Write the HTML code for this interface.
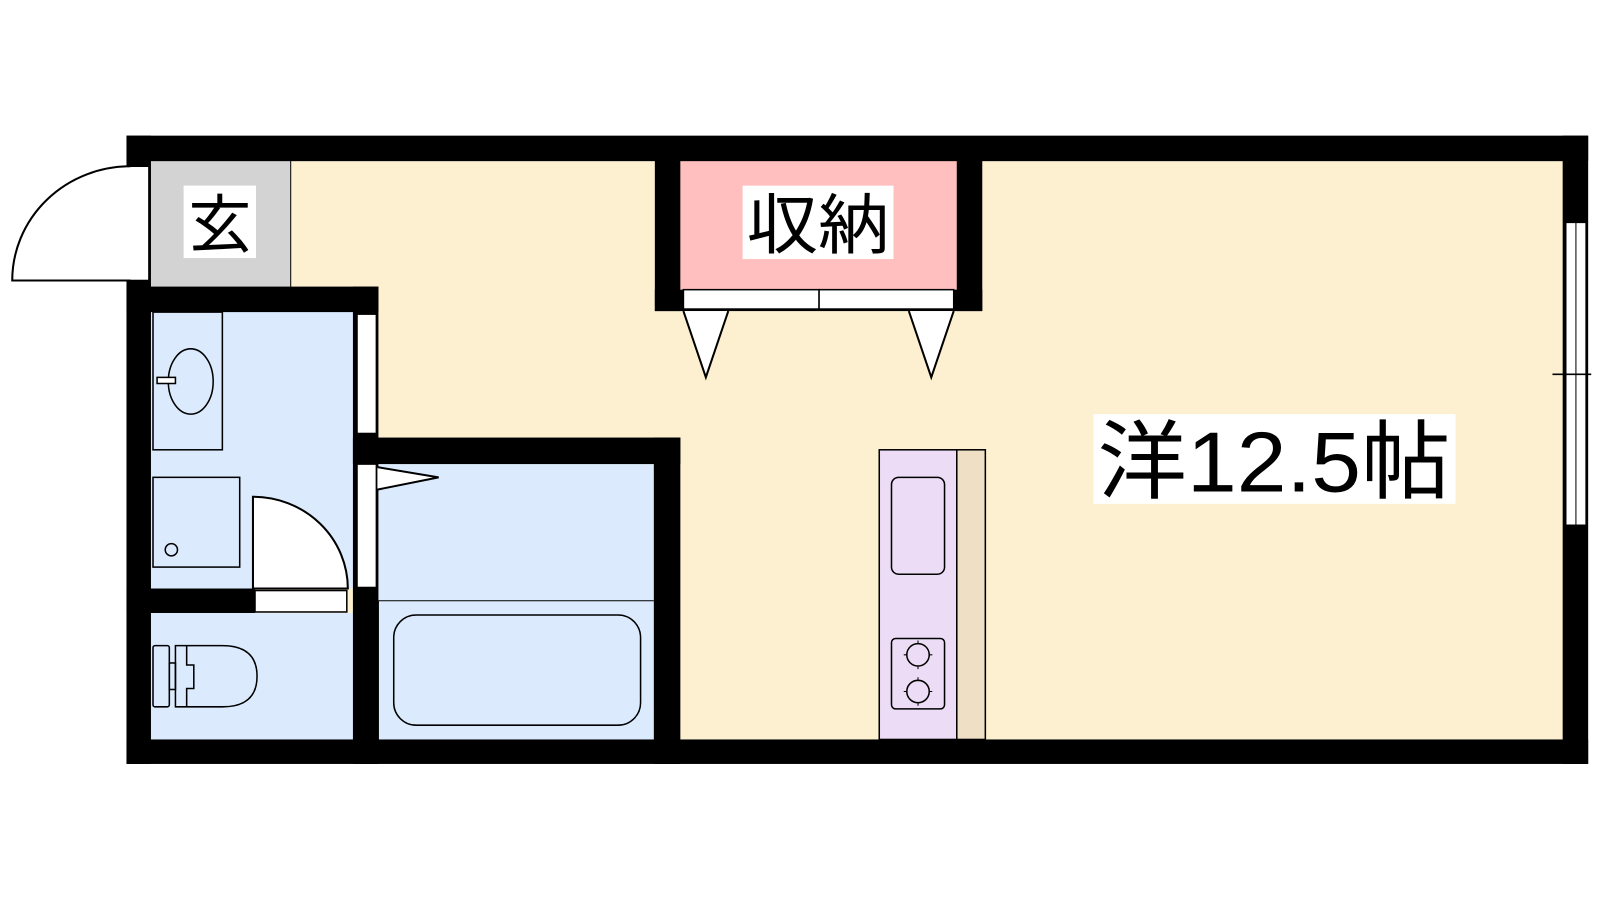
<!DOCTYPE html>
<html><head><meta charset="utf-8"><style>
html,body{margin:0;padding:0;background:#fff;width:1600px;height:900px;overflow:hidden}
svg{display:block}
text{font-family:"Liberation Sans","Noto Sans CJK JP",sans-serif}
</style></head><body>
<svg width="1600" height="900" viewBox="0 0 1568.6 882.4" preserveAspectRatio="none" xmlns="http://www.w3.org/2000/svg">
<rect width="1568.6" height="882.4" fill="#fff"/>
<!-- floors -->
<rect x="148" y="157" width="1385" height="569" fill="#fdf0d0"/>
<rect x="148" y="157" width="137" height="125" fill="#d3d3d3"/>
<line x1="285" y1="157" x2="285" y2="282" stroke="#000" stroke-width="1"/>
<rect x="148" y="305" width="199" height="272" fill="#dbebfd"/>
<rect x="148" y="601" width="199" height="125" fill="#dbebfd"/>
<rect x="371" y="455" width="270" height="271" fill="#dbebfd"/>
<rect x="667" y="157" width="272" height="127" fill="#ffbfbf"/>
<!-- walls -->
<g fill="#000">
<rect x="124" y="133" width="1433" height="25"/>
<rect x="124" y="725" width="1433" height="24"/>
<rect x="124" y="133" width="24" height="616"/>
<rect x="1532" y="133" width="25" height="616"/>
<rect x="124" y="281" width="247" height="25"/>
<rect x="346" y="281" width="25" height="468"/>
<rect x="346" y="429" width="321" height="26"/>
<rect x="641" y="429" width="26" height="320"/>
<rect x="124" y="577" width="126" height="24"/>
<rect x="642" y="157" width="25" height="148"/>
<rect x="938" y="157" width="25" height="148"/>
<rect x="642" y="284" width="321" height="21"/>
</g>
<!-- openings -->
<g fill="#fff" stroke="#000" stroke-width="1.5">
<rect x="127" y="163" width="19" height="112"/>
<rect x="350" y="308" width="19" height="117"/>
<rect x="350" y="455" width="19" height="121"/>
<rect x="250" y="579" width="90" height="21"/>
<rect x="1535" y="218" width="20" height="297"/>
<rect x="670" y="284" width="133" height="19"/>
<rect x="803" y="284" width="132" height="19"/>
</g>
<line x1="1545" y1="218" x2="1545" y2="515" stroke="#000" stroke-width="1"/>
<line x1="1522" y1="367" x2="1560" y2="367" stroke="#000" stroke-width="1.5"/>
<!-- door swings -->
<g fill="#fff" stroke="#000" stroke-width="2">
<path d="M128,163 A116,112 0 0 0 12,275 L128,275"/>
<path d="M248,487 A93,90 0 0 1 341,577 L248,577 Z"/>
<path d="M370,458 L430,468 L370,480"/>
<path d="M670,305 L692,370 L714,305"/>
<path d="M891,305 L913,370 L935,305"/>
</g>
<!-- washroom fixtures -->
<g fill="none" stroke="#000" stroke-width="1.5">
<rect x="150" y="306" width="68" height="135"/>
<ellipse cx="187" cy="374" rx="22" ry="32"/>
<rect x="154" y="370" width="18" height="6" fill="#fff"/>
<rect x="150" y="468" width="85" height="88"/>
<circle cx="168" cy="539" r="6"/>
<rect x="150" y="633" width="16" height="60" rx="2"/>
<rect x="166" y="650" width="6" height="26"/>
<path d="M172,633 L218,633 Q252,633 252,663 Q252,693 218,693 L172,693 Z"/>
<path d="M183,633 L183,652 L190,652 L190,675 L183,675 L183,693"/>
<rect x="386" y="603" width="242" height="108" rx="22"/>
</g>
<line x1="371" y1="589" x2="641" y2="589" stroke="#000" stroke-width="1"/>
<line x1="371" y1="589" x2="371" y2="725" stroke="#000" stroke-width="1"/>
<!-- kitchen -->
<rect x="862" y="441" width="76" height="284" fill="#ecdcf5" stroke="#000" stroke-width="1.5"/>
<rect x="938" y="441" width="28" height="284" fill="#efdfc5" stroke="#000" stroke-width="1.5"/>
<g fill="none" stroke="#000" stroke-width="1.5">
<rect x="874" y="468" width="52" height="95" rx="7"/>
<rect x="874" y="626" width="52" height="69" rx="4"/>
<circle cx="900" cy="642" r="11"/><circle cx="900" cy="678" r="11"/>
<path d="M886,642h28M900,628v28M886,678h28M900,664v28" stroke-width="1" stroke-dasharray="3 22 3 0"/>
</g>
<!-- labels -->
<rect x="180" y="182" width="71" height="71" fill="#fff"/>
<text x="215.5" y="242" font-size="62" text-anchor="middle" font-family="Noto Sans CJK JP, sans-serif">玄</text>
<rect x="728" y="182" width="148" height="72" fill="#fff"/>
<text x="802" y="243" font-size="64" text-anchor="middle" font-family="Noto Sans CJK JP, sans-serif" textLength="140" lengthAdjust="spacingAndGlyphs">収納</text>
<rect x="1072" y="406" width="355" height="88" fill="#fff"/>
<text x="1076" y="482" font-size="84" font-family="Noto Sans CJK JP, sans-serif" textLength="346" lengthAdjust="spacingAndGlyphs">洋12.5帖</text>
</svg>
</body></html>
